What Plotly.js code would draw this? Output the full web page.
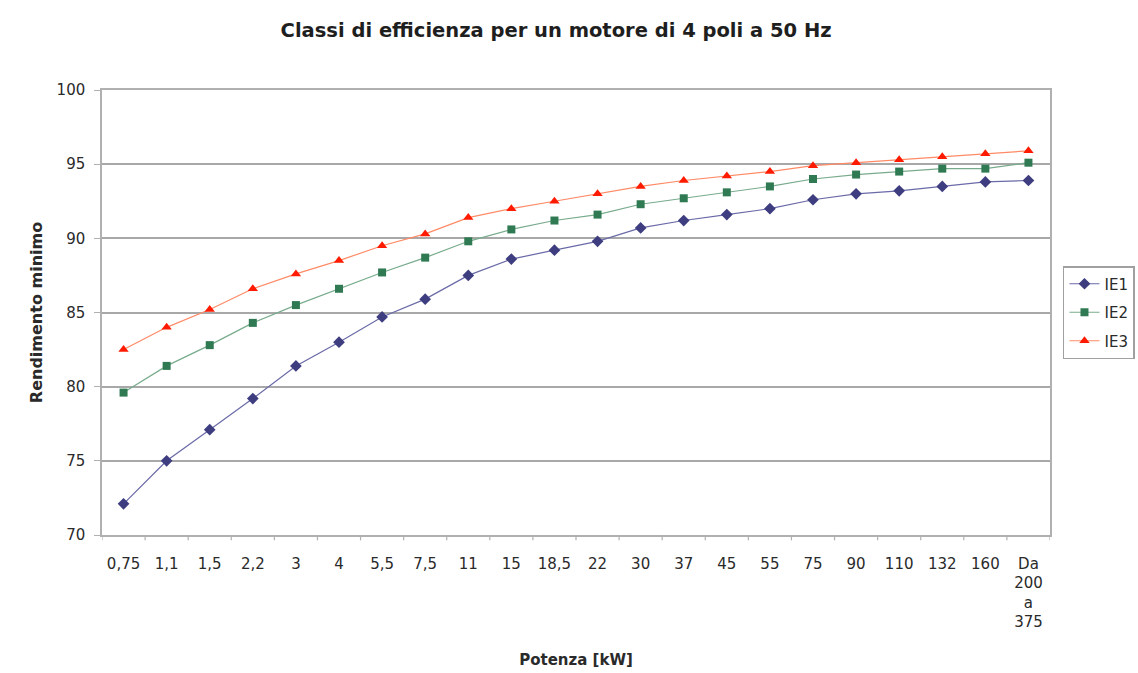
<!DOCTYPE html>
<html>
<head>
<meta charset="utf-8">
<script src="https://cdn.plot.ly/plotly-3.0.1.min.js"></script>
<style>html,body{margin:0;padding:0;background:#fff;}#chart{width:1138px;height:673px;}</style>
</head>
<body>
<div id="chart"></div>
<script>
var categories = ["0,75","1,1","1,5","2,2","3","4","5,5","7,5","11","15","18,5","22","30","37","45","55","75","90","110","132","160","Da<br>200<br>a<br>375"];
var ie1 = [72.1, 75.0, 77.1, 79.2, 81.4, 83.0, 84.7, 85.9, 87.5, 88.6, 89.2, 89.8, 90.7, 91.2, 91.6, 92.0, 92.6, 93.0, 93.2, 93.5, 93.8, 93.9];
var ie2 = [79.6, 81.4, 82.8, 84.3, 85.5, 86.6, 87.7, 88.7, 89.8, 90.6, 91.2, 91.6, 92.3, 92.7, 93.1, 93.5, 94.0, 94.3, 94.5, 94.7, 94.7, 95.1];
var ie3 = [82.5, 84.0, 85.2, 86.6, 87.6, 88.5, 89.5, 90.3, 91.4, 92.0, 92.5, 93.0, 93.5, 93.9, 94.2, 94.5, 94.9, 95.1, 95.3, 95.5, 95.7, 95.9];
var seriesNames = ["IE1","IE2","IE3"];

var xIdx = categories.map(function(c,i){return i;});
var FONT = 'DejaVu Sans, Liberation Sans, Arial, sans-serif';

var traces = [
  {x: xIdx, y: ie1, name: seriesNames[0], legendgroup: 'g1', type: 'scatter', mode: 'lines+markers',
   line: {color: '#6a6aa8', width: 1.2}, marker: {symbol: 'diamond', size: 9, color: '#3d3d80'}},
  {x: xIdx, y: ie2, name: seriesNames[1], legendgroup: 'g2', type: 'scatter', mode: 'lines+markers',
   line: {color: '#78ab8c', width: 1.2}, marker: {symbol: 'square', size: 8, color: '#2f7a52'}},
  {x: xIdx, y: ie3, name: seriesNames[2], legendgroup: 'g3', type: 'scatter', mode: 'lines+markers',
   line: {color: '#ff8a66', width: 1.2}, marker: {symbol: 'triangle-up', size: 9, color: '#ff1a00'}}
];

var layout = {
  width: 1138, height: 673,
  margin: {l: 102, r: 88, t: 90, b: 138, autoexpand: false},
  paper_bgcolor: '#ffffff', plot_bgcolor: '#ffffff',
  font: {family: FONT, size: 15, color: '#2a2a2a'},
  title: {text: '<b>Classi di efficienza per un motore di 4 poli a 50 Hz</b>', xref: 'paper', x: 0.479, xanchor: 'center', y: 0.955, yanchor: 'middle',
          font: {family: FONT, size: 19.5, color: '#1e1e1e'}},
  xaxis: {
    type: 'linear', range: [-0.5, 21.5],
    tickmode: 'array', tickvals: xIdx, ticktext: categories,
    showgrid: false, zeroline: false,
    showline: true, linecolor: '#b0b0b0', linewidth: 1.5, mirror: true,
    ticks: '', ticklabelstandoff: 14, tickfont: {family: FONT, size: 15, color: '#2a2a2a'},
    title: {text: '<b>Potenza [kW]</b>', font: {family: FONT, size: 15, color: '#2a2a2a'}, standoff: 24}
  },
  yaxis: {
    range: [70, 100], dtick: 5, tick0: 70,
    showgrid: true, gridcolor: '#a8a8a8', gridwidth: 1.5,
    zeroline: false,
    showline: true, linecolor: '#b0b0b0', linewidth: 1.5, mirror: true,
    ticks: 'outside', ticklen: 6, tickcolor: '#b0b0b0', ticklabelstandoff: 6,
    tickfont: {family: FONT, size: 15, color: '#2a2a2a'},
    title: {text: '<b>Rendimento minimo</b>', font: {family: FONT, size: 16, color: '#2a2a2a'}, standoff: 10}
  },
  legend: {x: 1.0137, xanchor: 'left', y: 0.5, yanchor: 'middle',
           bordercolor: '#a0a0a0', borderwidth: 1.5, bgcolor: '#fff',
           font: {family: FONT, size: 15, color: '#2a2a2a'}, tracegroupgap: 6},
  shapes: []
};

// x tick marks on category boundaries
for (var i = 0; i <= categories.length; i++) {
  layout.shapes.push({type: 'line', xref: 'x', yref: 'paper', x0: i - 0.5, x1: i - 0.5, y0: 0, y1: -0.012,
                      line: {color: '#b0b0b0', width: 1.2}});
}

Plotly.newPlot('chart', traces, layout, {displayModeBar: false});
</script>
</body>
</html>
